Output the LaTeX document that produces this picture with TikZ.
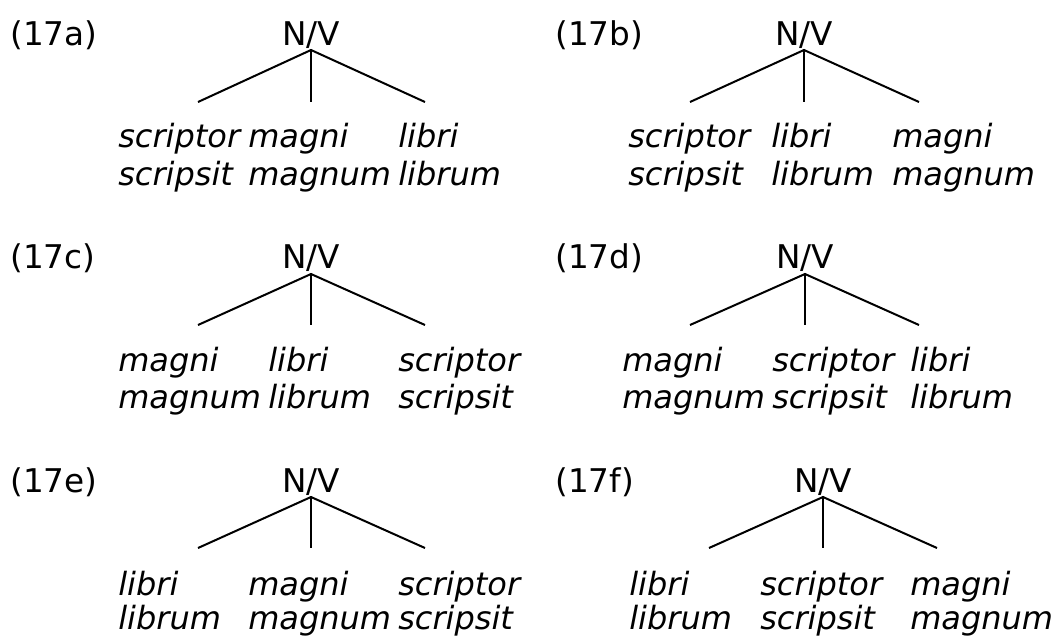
\documentclass[tikz,border=0pt]{standalone}
\usepackage{fontspec}
\setmainfont{DejaVu Sans}
\begin{document}
\begin{tikzpicture}[x=0.75pt,y=-0.75pt,
  lbl/.style={anchor=base west,inner sep=0pt,font=\fontsize{24.5}{28}\selectfont},
  cat/.style={anchor=base,inner sep=0pt,font=\fontsize{24.5}{28}\selectfont},
  word/.style={anchor=base west,inner sep=0pt,font=\fontsize{24}{28}\selectfont\itshape},
  edge/.style={line width=1.5pt}]
\useasboundingbox (0,0) rectangle (1058,636);
% ---------- (17a)
\node[lbl] (la) at (10,45) {(17a)};
\node[cat] (nva) at (311,45) {N/V};
\coordinate (ta) at (311,50);
\coordinate (a1) at (198,102); \coordinate (a2) at (311,102); \coordinate (a3) at (425,102);
\draw[edge] (a1) -- (ta) -- (a3); \draw[edge] (ta) -- (a2);
\node[word] (wa1) at (118,147) {scriptor}; \node[word] (wa1b) at (118,185) {scripsit};
\node[word] (wa2) at (248,147) {magni};    \node[word] (wa2b) at (248,185) {magnum};
\node[word] (wa3) at (398,147) {libri};    \node[word] (wa3b) at (398,185) {librum};
% ---------- (17b)
\node[lbl] (lb) at (555,45) {(17b)};
\node[cat] (nvb) at (804,45) {N/V};
\coordinate (tb) at (804,50);
\coordinate (b1) at (690,102); \coordinate (b2) at (804,102); \coordinate (b3) at (919,102);
\draw[edge] (b1) -- (tb) -- (b3); \draw[edge] (tb) -- (b2);
\node[word] (wb1) at (628,147) {scriptor}; \node[word] (wb1b) at (628,185) {scripsit};
\node[word] (wb2) at (771,147) {libri};    \node[word] (wb2b) at (771,185) {librum};
\node[word] (wb3) at (892,147) {magni};    \node[word] (wb3b) at (892,185) {magnum};
% ---------- (17c)
\node[lbl] (lc) at (10,268) {(17c)};
\node[cat] (nvc) at (311,268) {N/V};
\coordinate (tc) at (311,274);
\coordinate (c1) at (198,325); \coordinate (c2) at (311,325); \coordinate (c3) at (425,325);
\draw[edge] (c1) -- (tc) -- (c3); \draw[edge] (tc) -- (c2);
\node[word] (wc1) at (118,371) {magni};    \node[word] (wc1b) at (118,408) {magnum};
\node[word] (wc2) at (268,371) {libri};    \node[word] (wc2b) at (268,408) {librum};
\node[word] (wc3) at (398,371) {scriptor}; \node[word] (wc3b) at (398,408) {scripsit};
% ---------- (17d)
\node[lbl] (ld) at (555,268) {(17d)};
\node[cat] (nvd) at (805,268) {N/V};
\coordinate (td) at (805,274);
\coordinate (d1) at (690,325); \coordinate (d2) at (805,325); \coordinate (d3) at (919,325);
\draw[edge] (d1) -- (td) -- (d3); \draw[edge] (td) -- (d2);
\node[word] (wd1) at (622,371) {magni};    \node[word] (wd1b) at (622,408) {magnum};
\node[word] (wd2) at (772,371) {scriptor}; \node[word] (wd2b) at (772,408) {scripsit};
\node[word] (wd3) at (910,371) {libri};    \node[word] (wd3b) at (910,408) {librum};
% ---------- (17e)
\node[lbl] (le) at (10,492) {(17e)};
\node[cat] (nve) at (311,492) {N/V};
\coordinate (te) at (311,497);
\coordinate (e1) at (198,548); \coordinate (e2) at (311,548); \coordinate (e3) at (425,548);
\draw[edge] (e1) -- (te) -- (e3); \draw[edge] (te) -- (e2);
\node[word] (we1) at (118,595) {libri};    \node[word] (we1b) at (118,629) {librum};
\node[word] (we2) at (248,595) {magni};    \node[word] (we2b) at (248,629) {magnum};
\node[word] (we3) at (398,595) {scriptor}; \node[word] (we3b) at (398,629) {scripsit};
% ---------- (17f)
\node[lbl] (lf) at (555,492) {(17f)};
\node[cat] (nvf) at (823,492) {N/V};
\coordinate (tf) at (823,497);
\coordinate (f1) at (709,548); \coordinate (f2) at (823,548); \coordinate (f3) at (937,548);
\draw[edge] (f1) -- (tf) -- (f3); \draw[edge] (tf) -- (f2);
\node[word] (wf1) at (629,595) {libri};    \node[word] (wf1b) at (629,629) {librum};
\node[word] (wf2) at (760,595) {scriptor}; \node[word] (wf2b) at (760,629) {scripsit};
\node[word] (wf3) at (910,595) {magni};    \node[word] (wf3b) at (910,629) {magnum};
\end{tikzpicture}
\end{document}
